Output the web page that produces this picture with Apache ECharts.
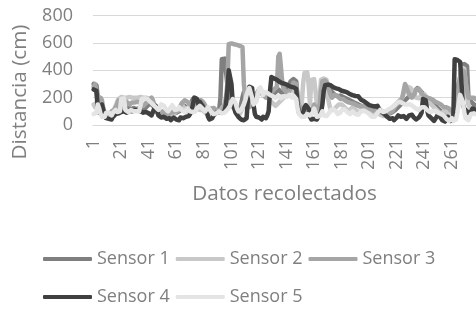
<!DOCTYPE html>
<html>
<head>
<meta charset="utf-8">
<script src="https://cdn.jsdelivr.net/npm/echarts@6/dist/echarts.min.js"></script>
<style>html,body{margin:0;padding:0;background:#fff}#c{width:476px;height:311px}</style>
</head>
<body>
<div id="c"></div>
<script>
var seriesNames = ['Sensor 1', 'Sensor 2', 'Sensor 3', 'Sensor 4', 'Sensor 5'];
var yTicks = [0, 200, 400, 600, 800];
var xTitle = 'Datos recolectados';
var yTitle = 'Distancia (cm)';
var categories = Array.from({length: 278}, function (_, k) { return String(k + 1); });

var sensor1 = [
300,310,290,200,110,120,130,100,80,70,
60,65,70,80,90,100,110,120,140,160,
150,140,130,120,125,130,120,115,120,125,
120,115,120,125,130,120,110,120,130,140,
150,160,150,140,130,110,90,80,70,65,
60,70,65,60,55,60,65,70,80,85,
90,95,100,110,120,130,140,130,120,130,
150,170,190,200,195,180,170,175,180,170,
150,130,120,100,90,100,110,105,100,95,
90,100,200,480,487,485,480,300,200,180,
150,140,130,120,110,100,110,150,200,240,
250,240,230,220,200,190,180,200,220,240,
260,250,240,230,220,210,220,230,240,230,
220,230,240,250,260,250,240,230,240,250,
260,280,300,320,330,335,330,320,200,150,
120,110,100,120,130,120,110,100,110,120,
130,120,110,100,120,200,280,300,290,280,
270,260,250,240,230,220,215,210,220,215,
210,205,200,195,190,185,180,175,170,165,
160,155,150,145,140,135,130,125,120,115,
110,105,100,95,90,85,80,85,90,95,
100,95,90,85,80,85,90,95,100,110,
120,130,140,150,160,170,180,190,200,210,
220,230,240,250,260,270,260,250,240,230,
220,210,200,190,180,170,160,150,140,130,
120,110,100,90,80,70,60,50,45,40,
35,40,60,100,200,300,350,440,450,445,
440,430,200,180,170,160,150,140
];
var sensor2 = [
150,130,140,200,210,180,110,90,80,70,
60,70,80,90,100,120,140,170,190,200,
205,200,200,205,200,200,205,200,200,205,
200,205,200,200,205,200,200,205,200,200,
195,190,180,160,140,120,100,90,80,75,
70,80,75,60,55,65,70,60,80,90,
100,90,110,130,150,140,120,100,110,130,
140,150,160,150,140,130,120,110,120,110,
100,90,80,70,60,70,80,90,100,95,
90,100,110,120,130,150,160,170,180,160,
140,130,120,110,100,90,80,100,120,150,
180,200,210,190,170,150,160,180,200,220,
230,240,250,240,230,220,200,190,180,170,
160,150,140,150,160,170,180,190,200,210,
220,230,240,250,260,250,240,200,150,120,
100,150,300,380,390,385,300,150,330,340,
335,250,150,120,200,330,340,340,335,330,
200,150,110,100,110,120,130,140,150,160,
150,140,130,120,110,100,110,120,130,120,
110,100,95,90,100,110,120,110,100,90,
85,80,90,100,95,90,85,80,75,70,
65,70,80,90,100,110,120,130,140,150,
160,170,180,190,200,230,260,270,280,275,
270,260,240,220,200,190,195,200,220,230,
225,200,180,170,160,150,140,130,120,110,
100,90,80,90,100,110,100,90,80,70,
60,70,80,100,150,250,350,420,415,410,
400,200,150,130,120,110,100,95
];
var sensor3 = [
280,300,240,150,120,200,180,120,90,80,
70,60,80,100,90,110,130,150,180,190,
170,160,150,160,170,160,150,160,165,170,
165,160,170,165,160,150,140,150,160,170,
180,190,200,180,150,120,100,90,80,90,
100,90,80,70,75,80,90,100,95,90,
100,110,120,140,160,170,180,175,170,160,
150,160,170,180,170,150,140,160,180,175,
160,140,130,120,110,120,130,125,120,110,
100,105,110,100,120,150,200,300,590,595,
596,592,590,588,585,580,578,575,570,300,
200,150,140,130,150,180,200,220,230,240,
250,240,230,220,210,200,210,220,230,240,
250,260,270,280,500,520,515,300,260,250,
240,230,250,270,290,310,320,300,200,150,
120,100,90,110,130,120,100,90,100,120,
150,130,110,100,150,250,320,330,325,320,
300,250,220,200,210,220,215,210,200,190,
185,190,180,175,170,165,170,160,150,155,
150,145,140,135,130,140,135,130,125,120,
115,120,110,105,100,110,105,100,95,90,
85,80,90,100,95,90,85,100,120,140,
150,160,170,180,200,250,300,305,250,220,
210,200,190,230,260,270,265,250,230,220,
210,205,200,200,195,190,185,180,170,165,
160,155,150,140,130,135,130,125,120,110,
100,90,80,100,200,300,350,400,400,390,
380,250,200,190,200,210,200,190
];
var sensor4 = [
260,270,250,120,90,100,150,110,70,50,
40,45,50,40,60,55,80,90,85,90,
95,90,100,95,90,100,105,110,100,105,
110,100,105,110,100,95,90,100,95,90,
85,80,70,60,120,140,110,70,60,55,
50,60,55,45,40,50,35,40,55,45,
40,50,35,55,60,50,45,60,70,65,
80,100,150,200,210,190,150,170,160,140,
120,130,110,60,40,35,50,70,80,90,
85,95,100,90,80,100,150,250,400,390,
300,150,120,90,80,60,50,40,45,35,
40,50,200,280,290,270,150,80,60,50,
55,45,40,60,55,50,70,100,250,350,
345,340,335,330,320,315,310,305,300,300,
295,290,285,280,280,275,270,265,150,90,
80,70,90,130,145,140,120,60,40,50,
45,55,40,60,70,90,150,250,290,300,
295,290,290,280,275,270,268,265,262,255,
250,252,245,240,238,230,225,220,218,215,
212,215,210,200,185,180,175,170,160,150,
145,150,140,130,135,125,140,120,110,100,
90,80,70,60,55,45,40,50,35,45,
55,70,75,60,50,65,55,45,40,70,
80,75,60,50,40,45,55,70,90,190,
195,180,110,70,60,50,40,30,45,60,
80,70,50,35,30,25,40,60,50,30,
25,40,480,485,475,470,460,300,150,120,
110,100,90,80,100,120,130,110
];
var sensor5 = [
80,70,90,150,120,80,60,50,60,90,
100,90,80,70,90,100,110,95,85,100,
190,200,195,110,100,95,100,110,105,100,
95,100,105,100,110,190,200,195,200,190,
180,170,160,150,140,130,120,110,130,150,
160,140,120,110,100,110,130,145,130,110,
100,115,130,120,110,100,95,105,120,110,
100,110,95,90,100,120,130,140,130,120,
110,100,115,130,120,100,90,80,75,85,
90,100,95,85,80,90,100,110,120,140,
170,190,200,160,120,100,95,110,130,150,
180,220,250,270,260,200,150,140,170,220,
260,275,250,220,240,250,235,225,220,215,
210,205,200,205,210,200,195,205,210,200,
205,215,220,210,200,215,220,190,120,80,
70,60,55,60,70,80,75,70,60,90,
120,90,60,55,65,80,100,70,60,65,
75,90,110,120,115,110,100,80,70,90,
110,120,115,105,95,85,80,90,100,95,
80,70,75,85,100,110,105,100,95,90,
80,70,60,55,60,75,90,100,110,105,
95,90,100,110,115,120,125,130,140,150,
160,165,170,165,160,155,150,145,150,160,
150,140,135,130,120,115,110,120,130,125,
130,120,110,100,95,90,100,110,105,95,
90,85,80,75,70,60,45,35,30,40,
50,30,25,40,90,160,220,230,170,90,
50,40,35,60,80,90,85,80
];
var seriesData = [sensor1, sensor2, sensor3, sensor4, sensor5];
var colors = ['#7f7f7f', '#c8c8c8', '#a5a5a5', '#404040', '#e4e4e4'];

var FONT = '"Open Sans", sans-serif';
var TXT = '#7f7f7f';
var chart = echarts.init(document.getElementById('c'), null, {renderer: 'canvas'});

var series = seriesNames.map(function (n, k) {
  return {
    name: n, type: 'line', data: seriesData[k], showSymbol: false, symbol: 'none',
    lineStyle: {width: 4.5, color: colors[k], cap: 'round', join: 'round'},
    itemStyle: {color: colors[k]}, animation: false
  };
});

function legendFor(names, top) {
  return {
    data: names, left: 43, top: top, orient: 'horizontal', padding: 0,
    itemWidth: 49, itemHeight: 4, itemGap: 6, icon: 'roundRect',
    textStyle: {fontFamily: FONT, fontSize: 18, color: TXT, lineHeight: 24}
  };
}

chart.setOption({
  backgroundColor: '#fff',
  animation: false,
  color: colors,
  grid: {left: 93, right: 0, top: 15.5, bottom: 186, containLabel: false},
  xAxis: {
    type: 'category', data: categories, boundaryGap: true,
    axisLine: {show: true, lineStyle: {color: '#d9d9d9', width: 1}},
    axisTick: {show: false},
    axisLabel: {interval: 19, rotate: 90, margin: 14, fontFamily: FONT, fontSize: 18, color: TXT}
  },
  yAxis: {
    type: 'value', min: yTicks[0], max: yTicks[yTicks.length - 1], interval: 200,
    axisLine: {show: false}, axisTick: {show: false},
    splitLine: {lineStyle: {color: '#d9d9d9', width: 1}},
    axisLabel: {margin: 20, fontFamily: FONT, fontSize: 18, color: TXT}
  },
  legend: [legendFor(seriesNames.slice(0, 3), 247), legendFor(seriesNames.slice(3), 285)],
  graphic: [
    {type: 'text', x: 20, y: 92, rotation: Math.PI / 2, style: {text: yTitle, fontFamily: FONT, fontSize: 20.7, fill: TXT, align: 'center', verticalAlign: 'middle'}},
    {type: 'text', x: 284.5, y: 194, style: {text: xTitle, fontFamily: FONT, fontSize: 20.7, fill: TXT, align: 'center', verticalAlign: 'middle'}}
  ],
  series: series
});
</script>
</body>
</html>
